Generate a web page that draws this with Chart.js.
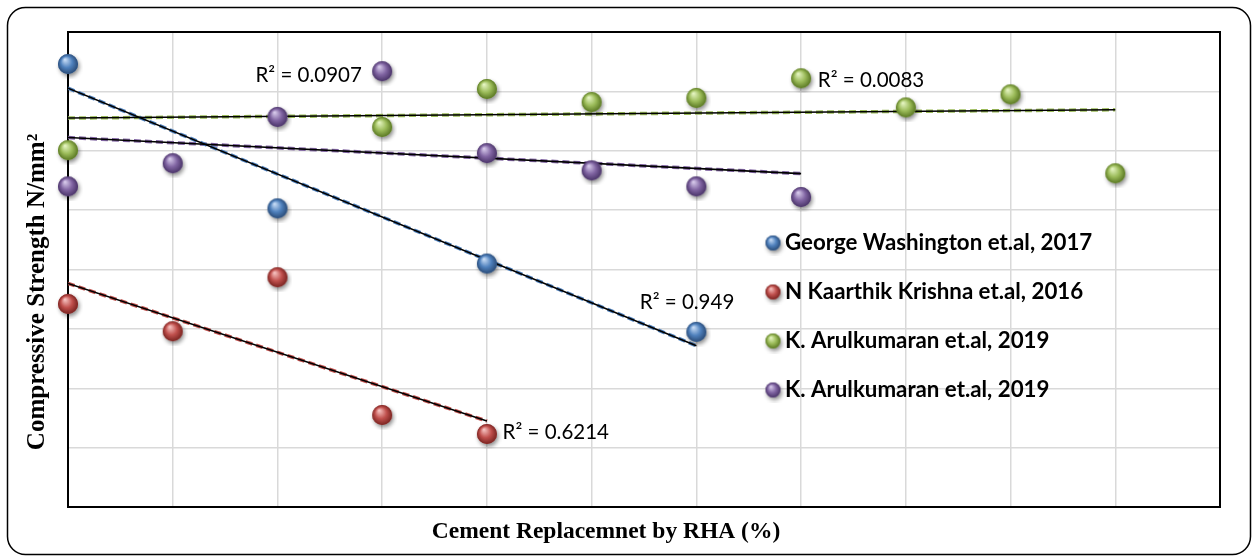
<!DOCTYPE html>
<html>
<head>
<meta charset="utf-8">
<title>Compressive Strength vs RHA</title>
<script src="https://cdn.jsdelivr.net/npm/chart.js@4/dist/chart.umd.min.js"></script>
<style>
    html, body { margin: 0; padding: 0; background: #fff; }
    #wrap { width: 1253px; height: 557px; position: relative; }
</style>
</head>
<body>
<div id="wrap"><canvas id="strengthChart"></canvas></div>
<script>
// 시리즈 이름
const seriesNames = [
    'George Washington et.al, 2017',
    'N Kaarthik Krishna et.al, 2016',
    'K. Arulkumaran et.al, 2019',
    'K. Arulkumaran et.al, 2019'
];

// x 위치 (격자 칸 번호, 눈금 라벨 없음)
const washingtonX = [0, 2, 4, 6];
const krishnaX = [0, 1, 2, 3, 4];
const arulGreenX = [0, 3, 4, 5, 6, 7, 8, 9, 10];
const arulPurpleX = [0, 1, 2, 3, 4, 5, 6, 7];

// 압축강도 값
const washingtonY = [7.46, 5.03, 4.10, 2.95];
const krishnaY = [3.42, 2.96, 3.87, 1.55, 1.23];
const arulGreenY = [6.01, 6.40, 7.04, 6.82, 6.89, 7.22, 6.73, 6.95, 5.62];
const arulPurpleY = [5.40, 5.79, 6.57, 7.34, 5.96, 5.67, 5.40, 5.22];

// 추세선 R² 라벨
const r2Labels = ['R² = 0.949', 'R² = 0.6214', 'R² = 0.0083', 'R² = 0.0907'];

const colors = [
    { base: '#4F81BD', light: '#c6dbf5', dark: '#2b4c78' },
    { base: '#C0504D', light: '#f5c0be', dark: '#7a2421' },
    { base: '#9BBB59', light: '#e4f4c0', dark: '#5a7823' },
    { base: '#8064A2', light: '#d6c9ea', dark: '#4a3468' }
];

// 3D 구슬 모양 포인트 이미지
function makeSphere(c, r) {
    const size = r * 2 + 10;
    const cv = document.createElement('canvas');
    cv.width = size;
    cv.height = size;
    const g = cv.getContext('2d');
    const cx = size / 2, cy = size / 2;

    g.save();
    g.shadowColor = 'rgba(0,0,0,0.45)';
    g.shadowBlur = 4;
    g.shadowOffsetX = 1.5;
    g.shadowOffsetY = 2.5;
    g.beginPath();
    g.arc(cx, cy, r, 0, Math.PI * 2);
    g.fillStyle = c.base;
    g.fill();
    g.restore();

    const grad = g.createRadialGradient(cx - r * 0.3, cy - r * 0.45, r * 0.05, cx, cy, r);
    grad.addColorStop(0, c.light);
    grad.addColorStop(0.55, c.base);
    grad.addColorStop(1, c.dark);
    g.beginPath();
    g.arc(cx, cy, r, 0, Math.PI * 2);
    g.fillStyle = grad;
    g.fill();
    return cv;
}

// 최소제곱 직선
function linearFit(xs, ys) {
    const n = xs.length;
    const mx = xs.reduce((a, b) => a + b, 0) / n;
    const my = ys.reduce((a, b) => a + b, 0) / n;
    let sxy = 0, sxx = 0;
    for (let i = 0; i < n; i++) {
        sxy += (xs[i] - mx) * (ys[i] - my);
        sxx += (xs[i] - mx) * (xs[i] - mx);
    }
    const slope = sxy / sxx;
    return { slope: slope, intercept: my - slope * mx };
}

function toPoints(xs, ys) {
    return xs.map((x, i) => ({ x: x, y: ys[i] }));
}

const allX = [washingtonX, krishnaX, arulGreenX, arulPurpleX];
const allY = [washingtonY, krishnaY, arulGreenY, arulPurpleY];

const datasets = [];

allX.forEach((xs, i) => {
    // 데이터 포인트
    datasets.push({
        label: seriesNames[i],
        data: toPoints(xs, allY[i]),
        pointStyle: makeSphere(colors[i], 10),
        pointRadius: 10,
        showLine: false,
        clip: false,
        order: 0
    });

    // 추세선: 색 점선 + 검은 실선
    const fit = linearFit(xs, allY[i]);
    const x0 = xs[0], x1 = xs[xs.length - 1];
    const trend = [
        { x: x0, y: fit.intercept + fit.slope * x0 },
        { x: x1, y: fit.intercept + fit.slope * x1 }
    ];
    datasets.push({
        label: 'trend-color',
        data: trend,
        showLine: true,
        borderColor: colors[i].base,
        borderWidth: 3.5,
        borderDash: [7, 4],
        pointRadius: 0,
        order: 2
    });
    datasets.push({
        label: 'trend-black',
        data: trend,
        showLine: true,
        borderColor: '#000',
        borderWidth: 1.6,
        pointRadius: 0,
        order: 1
    });
});

// 테두리, 축 제목, 범례, R² 라벨 그리기
const decorPlugin = {
    id: 'decor',
    beforeDatasetsDraw(chart) {
        const { ctx, chartArea } = chart;
        ctx.save();
        ctx.strokeStyle = '#000';
        ctx.lineWidth = 2;
        ctx.strokeRect(chartArea.left, chartArea.top, chartArea.right - chartArea.left, chartArea.bottom - chartArea.top);
        ctx.restore();
    },
    afterDatasetsDraw(chart, args, opts) {
        const { ctx, scales } = chart;
        ctx.save();

        // R² 라벨
        ctx.font = '20.5px Lato, "Open Sans", sans-serif';
        ctx.fillStyle = '#000';
        ctx.textBaseline = 'middle';
        ctx.textAlign = 'left';
        opts.r2Anchors.forEach((a, i) => {
            ctx.fillText(r2Labels[i], scales.x.getPixelForValue(a[0]), scales.y.getPixelForValue(a[1]));
        });

        // 범례
        ctx.font = 'bold 22.3px Lato, "Open Sans", sans-serif';
        opts.legendRows.forEach((y, i) => {
            const img = makeSphere(colors[i], 7.5);
            ctx.drawImage(img, opts.legendX - img.width / 2, y - img.height / 2);
            ctx.fillText(seriesNames[i], opts.legendX + 12, y);
        });

        // 축 제목
        ctx.font = 'bold 23.5px "Liberation Serif", "Times New Roman", serif';
        ctx.textAlign = 'center';
        ctx.fillText('Cement Replacemnet by RHA (%)', opts.xTitle[0], opts.xTitle[1]);
        ctx.font = 'bold 25px "Liberation Serif", "Times New Roman", serif';
        ctx.translate(opts.yTitle[0], opts.yTitle[1]);
        ctx.rotate(-Math.PI / 2);
        ctx.fillText('Compressive Strength N/mm²', 0, 0);
        ctx.restore();

        // 바깥 둥근 테두리
        ctx.save();
        ctx.strokeStyle = '#000';
        ctx.lineWidth = 1.5;
        ctx.beginPath();
        ctx.roundRect(7.5, 7.5, 1243, 547, 18);
        ctx.stroke();
        ctx.restore();
    }
};

const gridOpts = {
    color: '#d9d9d9',
    lineWidth: 1.5,
    drawTicks: false
};

new Chart(document.getElementById('strengthChart'), {
    type: 'scatter',
    data: { datasets: datasets },
    options: {
        responsive: true,
        maintainAspectRatio: false,
        animation: false,
        layout: {
            padding: { top: 32, right: 33, left: 0, bottom: 0 }
        },
        scales: {
            x: {
                type: 'linear',
                min: 0,
                max: 11,
                ticks: { display: false, stepSize: 1 },
                grid: gridOpts,
                border: { display: false },
                afterFit: scale => { scale.height = 50; }
            },
            y: {
                type: 'linear',
                min: 0,
                max: 8,
                ticks: { display: false, stepSize: 1 },
                grid: gridOpts,
                border: { display: false },
                afterFit: scale => { scale.width = 68; }
            }
        },
        plugins: {
            legend: { display: false },
            tooltip: { enabled: false },
            decor: {
                r2Anchors: [[5.46, 3.45], [4.15, 1.26], [7.16, 7.19], [1.79, 7.27]],
                legendX: 773,
                legendRows: [243, 292, 341, 390],
                xTitle: [606, 532],
                yTitle: [38, 292]
            }
        }
    },
    plugins: [decorPlugin]
});
</script>
</body>
</html>
